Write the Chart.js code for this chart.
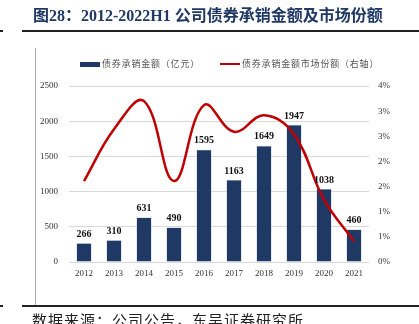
<!DOCTYPE html>
<html>
<head>
<meta charset="utf-8">
<script src="https://cdn.jsdelivr.net/npm/chart.js@4.4.1/dist/chart.umd.min.js"></script>
<style>
html,body{margin:0;padding:0;background:#fff;}
#wrap{position:relative;width:419px;height:324px;overflow:hidden;background:#fff;}
#c{position:absolute;left:0;top:0;}
.abs{position:absolute;white-space:nowrap;}
#title{left:33px;top:5px;font-size:16px;font-weight:bold;color:#1f3864;font-family:"Liberation Serif","Noto Sans CJK SC",serif;line-height:22px;}
#foot{left:32px;top:310px;font-size:15px;color:#222;font-family:"Noto Sans CJK SC",sans-serif;line-height:20px;letter-spacing:1px;}
.hl{position:absolute;height:2px;background:#222;}
.leg{font-size:9px;color:#555;font-family:"Noto Sans CJK SC",sans-serif;line-height:12px;top:58px;letter-spacing:0.8px;}
</style>
</head>
<body>
<div id="wrap">
<canvas id="c" width="419" height="324"></canvas>
<div id="title" class="abs">图28：2012-2022H1 公司债券承销金额及市场份额</div>
<div class="hl" style="left:22px;top:30px;width:397px;"></div>
<div class="hl" style="left:0px;top:30px;width:3px;"></div>
<div class="abs" style="left:35px;top:48px;width:1px;height:258px;background:#aaa;"></div>
<div class="hl" style="left:22px;top:305px;width:397px;"></div>
<div class="hl" style="left:0px;top:305px;width:3px;"></div>
<div id="foot" class="abs">数据来源：公司公告，东吴证券研究所</div>
<div class="abs" style="left:80px;top:62px;width:20px;height:5px;background:#1f3864;"></div>
<div class="abs leg" style="left:102px;">债券承销金额（亿元）</div>
<div class="abs" style="left:220px;top:63px;width:20px;height:2px;background:#c00000;"></div>
<div class="abs leg" style="left:242px;">债券承销金额市场份额（右轴）</div>
</div>
<script>
const categories = ['2012','2013','2014','2015','2016','2017','2018','2019','2020','2021'];
const amounts = [266, 310, 631, 490, 1595, 1163, 1649, 1947, 1038, 460];
const shares = [1.61, 2.64, 3.2, 1.61, 3.12, 2.59, 2.92, 2.54, 1.24, 0.41];
const leftTicks = [0, 500, 1000, 1500, 2000, 2500];

const labelPlugin = {
  id: 'barLabels',
  afterDatasetsDraw(chart) {
    const ctx = chart.ctx;
    const meta = chart.getDatasetMeta(1);
    ctx.save();
    ctx.font = 'bold 10px "Liberation Serif", serif';
    ctx.fillStyle = '#111';
    ctx.textAlign = 'center';
    ctx.textBaseline = 'bottom';
    meta.data.forEach((el, i) => {
      ctx.fillText(String(amounts[i]), el.x, el.y - 4);
    });
    ctx.restore();
  }
};

new Chart(document.getElementById('c'), {
  data: {
    labels: categories,
    datasets: [
      {
        type: 'line',
        label: '债券承销金额市场份额（右轴）',
        data: shares,
        yAxisID: 'y1',
        borderColor: '#c00000',
        backgroundColor: '#c00000',
        borderWidth: 2.5,
        pointRadius: 0,
        tension: 0.4,
        order: 0
      },
      {
        type: 'bar',
        label: '债券承销金额（亿元）',
        data: amounts,
        yAxisID: 'y',
        backgroundColor: '#1f3864',
        borderColor: '#8ea0c0',
        borderWidth: 0.5,
        categoryPercentage: 1,
        barPercentage: 0.5,
        order: 1
      }
    ]
  },
  options: {
    responsive: false,
    animation: false,
    layout: { padding: { left: 0, right: 0, top: 86, bottom: 38 } },
    plugins: { legend: { display: false }, tooltip: { enabled: false } },
    scales: {
      x: {
        grid: { display: false, drawTicks: false },
        border: { display: false },
        ticks: { color: '#333', font: { family: '"Liberation Serif", serif', size: 9 }, padding: 6, maxRotation: 0 },
        afterFit(s) { s.height = 24; }
      },
      y: {
        position: 'left',
        min: 0, max: 2500,
        afterBuildTicks(s) { s.ticks = leftTicks.map(v => ({ value: v })); },
        grid: { color: '#d9d9d9', lineWidth: 1, drawTicks: false },
        border: { display: false },
        ticks: { color: '#333', font: { family: '"Liberation Serif", serif', size: 9 }, padding: 11, callback: v => String(v) },
        afterFit(s) { s.width = 69; }
      },
      y1: {
        position: 'right',
        min: 0, max: 3.5,
        ticks: {
          stepSize: 0.5,
          color: '#333',
          font: { family: '"Liberation Serif", serif', size: 9 },
          padding: 9,
          callback: v => Math.round(v) + '%'
        },
        grid: { display: false, drawTicks: false },
        border: { display: false },
        afterFit(s) { s.width = 50; }
      }
    }
  },
  plugins: [labelPlugin]
});
</script>
</body>
</html>
